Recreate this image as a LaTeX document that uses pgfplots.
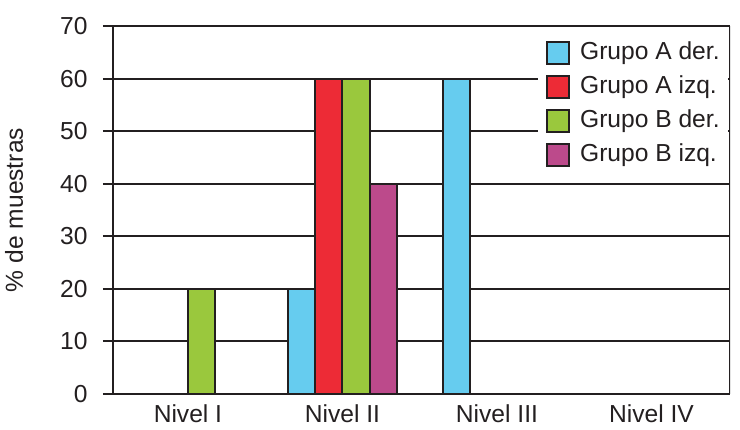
\documentclass[border=0pt]{standalone}
\usepackage{fontspec}
\setmainfont{Liberation Sans}
\usepackage{pgfplots}
\pgfplotsset{compat=1.18}
\usetikzlibrary{calc}
\definecolor{ink}{HTML}{231F20}
\definecolor{gAder}{HTML}{66CCEF}
\definecolor{gAizq}{HTML}{ED2B36}
\definecolor{gBder}{HTML}{9AC83D}
\definecolor{gBizq}{HTML}{BC4A8B}
\tikzset{bars/.style={draw=ink, line width=1pt}}
\begin{document}
\begin{tikzpicture}
\begin{axis}[
  scale only axis, width=308.5pt, height=184pt,
  ybar, bar width=0.175,
  xmin=-0.485, xmax=3.508, ymin=0, ymax=70,
  xtick={0,1,2,3},
  xticklabels={Nivel I, Nivel II, Nivel III, Nivel IV},
  ytick distance=10,
  font=\fontsize{12.3}{14}\selectfont,
  /pgf/number format/assume math mode=true,
  axis line style={ink, line width=1pt},
  x axis line style={-},
  axis y line*=left,
  ymajorgrids, grid style={ink, line width=1pt},
  major x tick style={draw=none},
  ytick style={ink, line width=1pt},
  tick align=outside, major tick length=5pt,
  yticklabel style={anchor=east, inner sep=0pt, xshift=-7.5pt, text=ink},
  xticklabel style={anchor=north, inner sep=0pt, yshift=0pt, text=ink},
  ylabel={\% de muestras},
  ylabel style={at={(rel axis cs:-0.1605,0.5)}, anchor=center, inner sep=0pt, text=ink},
  legend image code/.code={\draw[#1, draw=ink, line width=1pt] (0pt,-5.5pt) rectangle (11pt,5.5pt);},
  legend cell align=left,
  legend style={at={(rel axis cs:1,1)}, anchor=north east, xshift=-1pt, yshift=-3.5pt,
    draw=none, fill=white, inner xsep=4pt, inner ysep=4pt, row sep=5pt,
    nodes={inner sep=0pt, text height=9pt, text depth=2.5pt, text=ink},
    /tikz/every odd column/.append style={column sep=5pt}},
]
\draw[ink, line width=1pt] (rel axis cs:1,0) -- (rel axis cs:1,1);
\addplot[bars, fill=gAder, bar shift=-0.2625] coordinates {(1,20) (2,60)};
\addplot[bars, fill=gAizq, bar shift=-0.0875] coordinates {(1,60)};
\addplot[bars, fill=gBder, bar shift=0.0875] coordinates {(0,20) (1,60)};
\addplot[bars, fill=gBizq, bar shift=0.2625] coordinates {(1,40)};
\legend{Grupo A der., Grupo A izq., Grupo B der., Grupo B izq.}
\end{axis}
\pgfresetboundingbox
\path ($(current axis.south west)+(-56.5pt,-18pt)$) rectangle ($(current axis.north east)+(5pt,13pt)$);
\end{tikzpicture}
\end{document}
